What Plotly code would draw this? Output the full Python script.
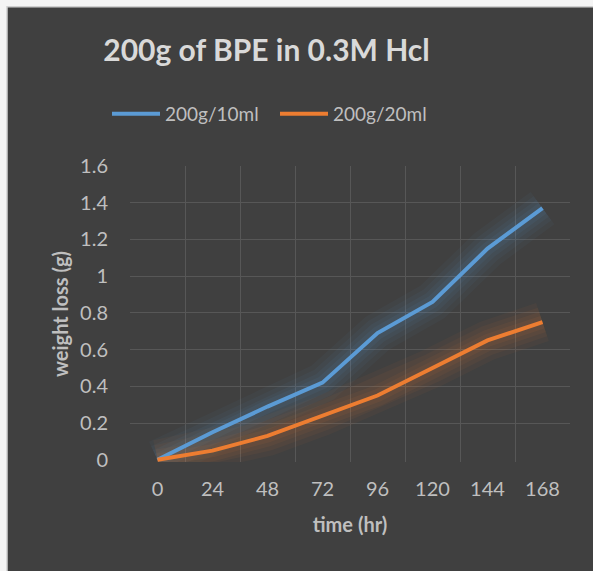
import plotly.graph_objects as go

hours = ["0", "24", "48", "72", "96", "120", "144", "168"]
series_10ml = [0, 0.15, 0.29, 0.42, 0.69, 0.86, 1.15, 1.37]
series_20ml = [0, 0.05, 0.13, 0.24, 0.35, 0.50, 0.65, 0.75]
y_ticks = [0, 0.2, 0.4, 0.6, 0.8, 1, 1.2, 1.4, 1.6]
y_tick_text = ["0", "0.2", "0.4", "0.6", "0.8", "1", "1.2", "1.4", "1.6"]

xi = list(range(len(hours)))
BLUE = "#5B9BD5"
ORANGE = "#ED7D31"
BG = "#404040"
FONT = "Lato"

fig = go.Figure()

# soft glow layers (on main subplot, under the lines)
for vals, col in [(series_10ml, BLUE), (series_20ml, ORANGE)]:
    for w, op in [(40, 0.045), (30, 0.05), (21, 0.06), (13, 0.07)]:
        fig.add_trace(go.Scatter(x=xi, y=vals, mode="lines", xaxis="x", yaxis="y",
                                 line=dict(color=col, width=w), opacity=op,
                                 showlegend=False, hoverinfo="skip"))

fig.add_trace(go.Scatter(x=xi, y=series_10ml, mode="lines", name="200g/10ml",
                         xaxis="x", yaxis="y2", line=dict(color=BLUE, width=4)))
fig.add_trace(go.Scatter(x=xi, y=series_20ml, mode="lines", name="200g/20ml",
                         xaxis="x", yaxis="y2", line=dict(color=ORANGE, width=4)))

yr = [-0.012, 1.6]
grid_col = "#575757"

fig.update_layout(
    width=593, height=571,
    margin=dict(l=130, r=23, t=166, b=109),
    paper_bgcolor="#f4f4f4",
    plot_bgcolor=BG,
    font=dict(family=FONT, color="#bfbfbf"),
    title=dict(text="<b>200g of BPE in 0.3M Hcl</b>", font=dict(size=30, color="#d9d9d9", family=FONT),
               x=266.5 / 593, xref="container", xanchor="center",
               y=1 - 50 / 571, yref="container", yanchor="middle"),
    showlegend=True,
    legend=dict(orientation="h", xref="container", yref="container",
                x=107 / 593, xanchor="left", y=1 - 114 / 571, yanchor="middle",
                font=dict(size=19, color="#bfbfbf", family=FONT),
                bgcolor="rgba(0,0,0,0)", itemwidth=48, entrywidth=105),
    xaxis=dict(range=[-0.5, 7.5], tickvals=xi, ticktext=hours, showgrid=False,
               zeroline=False, showline=False, ticks="outside", ticklen=9,
               tickcolor="rgba(0,0,0,0)", tickfont=dict(size=20, color="#bfbfbf"),
               minor=dict(tick0=-0.5, dtick=1, showgrid=True, gridcolor=grid_col, gridwidth=1.3),
               title=dict(text="<b>time (hr)</b>", font=dict(size=20, color="#bfbfbf"), standoff=18),
               automargin=False),
    yaxis=dict(range=yr, tickvals=y_ticks[1:], showticklabels=False, showgrid=True,
               gridcolor=grid_col, gridwidth=1.3, zeroline=False, showline=False,
               automargin=False),
    yaxis2=dict(range=yr, overlaying="y", side="left", tickvals=y_ticks, ticktext=y_tick_text,
                showgrid=False, zeroline=False, showline=False, ticks="outside", ticklen=17,
                tickcolor="rgba(0,0,0,0)", tickfont=dict(size=20, color="#bfbfbf"),
                title=dict(text="<b>weight loss (g)</b>", font=dict(size=20, color="#bfbfbf"), standoff=6),
                automargin=False),
    shapes=[dict(type="rect", xref="paper", yref="paper",
                 x0=(7 - 130) / 440, x1=1.2, y0=-0.5, y1=(461.7 - 7) / 295.7,
                 fillcolor=BG, line=dict(color="#cfcfcf", width=1.5), layer="below")],
)

fig.write_html("out.html", config={"displayModeBar": False},
               post_script=("document.documentElement.style.background='#404040';"
                            "document.body.style.background='#404040';"
                            "document.body.style.margin='0';"
                            "document.documentElement.style.overflow='hidden';"
                            "document.body.style.overflow='hidden';"))
